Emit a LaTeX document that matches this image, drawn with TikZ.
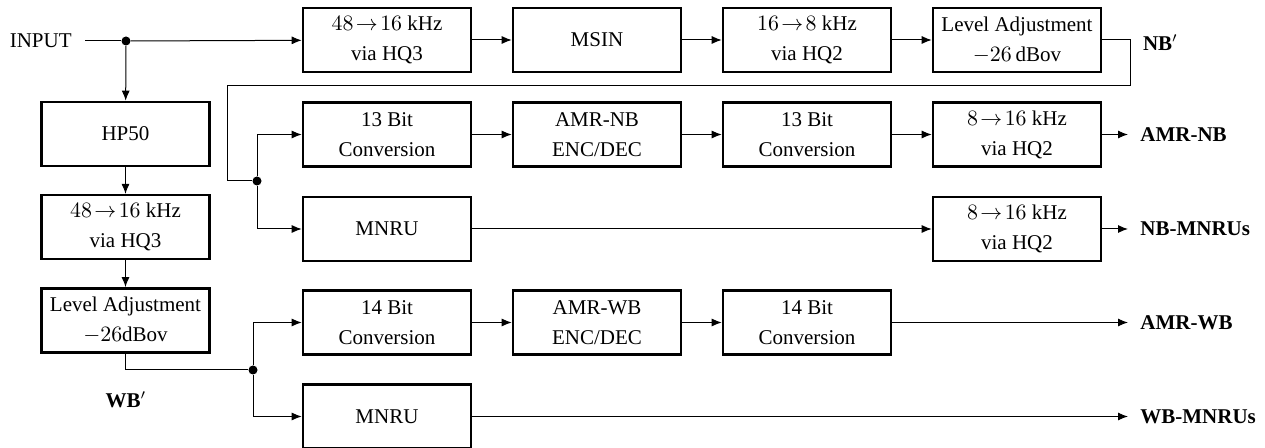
\documentclass[tikz,border=0pt]{standalone}
\usepackage{fontspec}
\setmainfont{Liberation Serif}
\usetikzlibrary{positioning,arrows.meta}
\tikzstyle{block} = [draw, line width=1.3pt,
    	rectangle, minimum width=84pt, minimum height=32pt, inner sep=2pt, align=center]
\tikzstyle{link} = [line width=0.5pt]
\tikzstyle{flow} = [line width=0.5pt, -{Latex[length=5pt,width=4pt]}]
\tikzstyle{outlbl} = [anchor=west, inner xsep=6pt, font=\fontsize{10.5}{15}\selectfont\bfseries]
\tikzstyle{junction} = [circle, fill, inner sep=0pt, minimum size=4.5pt]

\begin{document}
\begin{tikzpicture}[x=0.5pt, y=-0.5pt, font=\fontsize{10.5}{15}\selectfont,
    node distance=19.7pt]
\useasboundingbox (0,0) rectangle (1265,448);

% input and wide band branch
\node (input) [anchor=east, inner xsep=6.5pt] at (85,41) {INPUT};
\node (split) [junction] at (126,41) {};
\node (hp) [block] at (125.5,134) {HP50};
\node (wbup) [block, below=13.3pt of hp] {$48\!\to\!16$ kHz\\via HQ3};
\node (wblevel) [block, below=13.3pt of wbup] {Level Adjustment\\$-26\mathrm{dBov}$};
\node (wbprime) at (126,400) {{\bfseries WB}$'$};

% narrow band chain
\node (up1) [block] at (387,40) {$48\!\to\!16$ kHz\\via HQ3};
\node (msin) [block, right=of up1] {MSIN};
\node (down1) [block, right=of msin] {$16\!\to\!8$ kHz\\via HQ2};
\node (nblevel) [block, right=of down1] {Level Adjustment\\$-26\,\mathrm{dBov}$};
\node (nbprime) [anchor=west] at (1136,43) {{\bfseries NB}$'$};

\node (nb13a) [block] at (387,134.5) {13 Bit\\Conversion};
\node (nbcodec) [block, right=of nb13a] {AMR-NB\\ENC/DEC};
\node (nb13b) [block, right=of nbcodec] {13 Bit\\Conversion};
\node (nbup) [block, right=of nb13b] {$8\!\to\!16$ kHz\\via HQ2};
\node (amrnb) [outlbl] at (1128,134.5) {AMR-NB};

\node (nbmnru) [block] at (387,229) {MNRU};
\node (nbmnruup) [block] at (nbup |- nbmnru) {$8\!\to\!16$ kHz\\via HQ2};
\node (nbmnrus) [outlbl] at (1128,229) {NB-MNRUs};

\node (wb14a) [block] at (387,322.5) {14 Bit\\Conversion};
\node (wbcodec) [block, right=of wb14a] {AMR-WB\\ENC/DEC};
\node (wb14b) [block, right=of wbcodec] {14 Bit\\Conversion};
\node (amrwb) [outlbl] at (1128,322.5) {AMR-WB};

\node (wbmnru) [block] at (387,416.5) {MNRU};
\node (wbmnrus) [outlbl] at (1128,416.5) {WB-MNRUs};

\coordinate (nbturn) at (1130,86);
\coordinate (nbleft) at (227,86);
\node (nbsplit) [junction] at (257,181) {};
\node (wbsplit) [junction] at (253,370) {};

\draw [link] (input) -- (split);
\draw [flow] (split) -- (up1);
\draw [flow] (split) -- (hp);
\draw [flow] (hp) -- (wbup);
\draw [flow] (wbup) -- (wblevel);
\draw [flow] (up1) -- (msin);
\draw [flow] (msin) -- (down1);
\draw [flow] (down1) -- (nblevel);

\draw [link] (nblevel.east) -| (nbturn) -- (nbleft) |- (nbsplit);
\draw [flow] (nbsplit) |- (nb13a);
\draw [flow] (nbsplit) |- (nbmnru);
\draw [flow] (nb13a) -- (nbcodec);
\draw [flow] (nbcodec) -- (nb13b);
\draw [flow] (nb13b) -- (nbup);
\draw [flow] (nbup) -- (amrnb);
\draw [flow] (nbmnru) -- (nbmnruup);
\draw [flow] (nbmnruup) -- (nbmnrus);

\draw [link] (wblevel) |- (wbsplit);
\draw [flow] (wbsplit) |- (wb14a);
\draw [flow] (wbsplit) |- (wbmnru);
\draw [flow] (wb14a) -- (wbcodec);
\draw [flow] (wbcodec) -- (wb14b);
\draw [flow] (wb14b) -- (amrwb);
\draw [flow] (wbmnru) -- (wbmnrus);
\end{tikzpicture}
\end{document}
